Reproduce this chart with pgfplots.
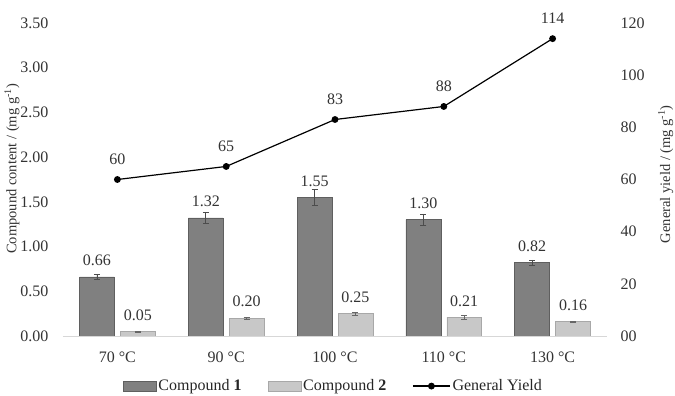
\documentclass[border=0pt]{standalone}
\usepackage{pgfplots}
\pgfplotsset{compat=1.18}
\usepackage{fontspec}
\setmainfont{Liberation Serif}
\definecolor{cA}{RGB}{128,128,128}
\definecolor{cAd}{RGB}{95,95,95}
\definecolor{cB}{RGB}{200,200,200}
\definecolor{cBd}{RGB}{168,168,168}
\definecolor{basecol}{RGB}{215,215,215}
\begin{document}
\fontsize{16}{19}\selectfont
\begin{tikzpicture}
\path[use as bounding box] (-63pt,-60pt) rectangle (612pt,336pt);
\begin{axis}[
  at={(0,0)}, anchor=south west, scale only axis,
  width=544pt, height=313pt,
  xmin=-0.5, xmax=4.5, ymin=0, ymax=3.5,
  ybar=6pt, bar width=0.32,
  axis x line*=bottom, axis y line*=left,
  x axis line style={basecol, line width=0.8pt, -},
  y axis line style={draw=none},
  major tick length=0pt,
  xtick={0,1,2,3,4},
  xticklabels={70 °C,90 °C,100 °C,110 °C,130 °C},
  ytick={0,0.5,1,1.5,2,2.5,3,3.5},
  yticklabels={0.00,0.50,1.00,1.50,2.00,2.50,3.00,3.50},
  tick label style={font=\fontsize{16}{19}\selectfont, text=black!80},
  yticklabel style={xshift=-9pt},
  xticklabel style={yshift=-10pt},
  ylabel={Compound content / (mg g\textsuperscript{-1})},
  ylabel style={at={(axis description cs:-0.094,0.534)}, anchor=center, font=\fontsize{14.5}{17}\selectfont, text=black!80},
  nodes near coords style={font=\fontsize{16}{19}\selectfont, text=black!80, anchor=south, inner sep=0pt, yshift=10.6pt},
]
\addplot[fill=cA, draw=cAd, line width=0.6pt,
  nodes near coords, point meta=explicit symbolic,
  error bars/.cd, y dir=both, y explicit,
  error bar style={black!70, line width=0.6pt},
  error mark options={rotate=90, mark size=3pt, black!70, line width=0.6pt}]
  coordinates {
  (0,0.66) +- (0,0.03) [0.66]
  (1,1.32) +- (0,0.06) [1.32]
  (2,1.55) +- (0,0.085) [1.55]
  (3,1.30) +- (0,0.065) [1.30]
  (4,0.82) +- (0,0.03) [0.82]
  };
\addplot[fill=cB, draw=cBd, line width=0.6pt,
  nodes near coords, point meta=explicit symbolic,
  error bars/.cd, y dir=both, y explicit,
  error bar style={black!60, line width=0.6pt},
  error mark options={rotate=90, mark size=3pt, black!60, line width=0.6pt}]
  coordinates {
  (0,0.05) +- (0,0.005) [0.05]
  (1,0.20) +- (0,0.01) [0.20]
  (2,0.25) +- (0,0.02) [0.25]
  (3,0.21) +- (0,0.02) [0.21]
  (4,0.16) +- (0,0.006) [0.16]
  };
\end{axis}
\begin{axis}[
  at={(0,0)}, anchor=south west, scale only axis,
  width=544pt, height=313pt,
  xmin=-0.5, xmax=4.5, ymin=0, ymax=120,
  axis x line=none, axis y line*=right,
  y axis line style={draw=none},
  major tick length=0pt,
  ytick={0,20,40,60,80,100,120},
  yticklabels={00,20,40,60,80,100,120},
  tick label style={font=\fontsize{16}{19}\selectfont, text=black!80},
  yticklabel style={xshift=8pt},
  ylabel={General yield / (mg g\textsuperscript{-1})},
  ylabel style={at={(axis description cs:1.108,0.517)}, anchor=center, rotate=0, font=\fontsize{14.5}{17}\selectfont, text=black!80},
  legend style={at={(axis description cs:0.497,-0.16)}, anchor=center, draw=none, fill=none,
    font=\fontsize{16}{19}\selectfont, text=black!85,
    /tikz/every even column/.append style={column sep=24pt}},
  legend columns=3,
  legend cell align=left,
]
\addlegendimage{legend image code/.code={\draw[fill=cA, draw=cAd, line width=0.6pt] (0pt,-5pt) rectangle (33pt,5pt);}}
\addlegendentry{Compound \textbf{1}}
\addlegendimage{legend image code/.code={\draw[fill=cB, draw=cBd, line width=0.6pt] (0pt,-5pt) rectangle (33pt,5pt);}}
\addlegendentry{Compound \textbf{2}}
\addplot[black, line width=1.2pt, mark=*, mark size=2.8pt,
  nodes near coords, point meta=explicit symbolic,
  nodes near coords style={font=\fontsize{16}{19}\selectfont, text=black!80, anchor=south, inner sep=0pt, yshift=14.6pt},
  legend image code/.code={\draw[black, line width=1.2pt] (0pt,0pt) -- (37pt,0pt); \fill[black] (18.5pt,0pt) circle (2.8pt);}]
  coordinates {
  (0,60) [60]
  (1,65) [65]
  (2,83) [83]
  (3,88) [88]
  (4,114) [114]
  };
\addlegendentry{General Yield}
\end{axis}
\end{tikzpicture}
\end{document}
